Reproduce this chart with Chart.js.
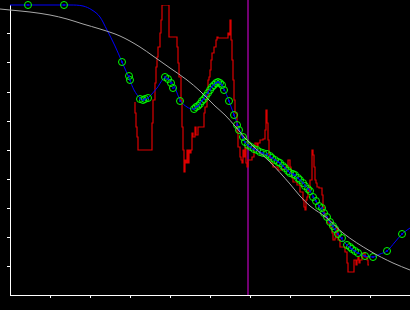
<!DOCTYPE html>
<html>
<head>
<meta charset="utf-8">
<script src="https://cdn.jsdelivr.net/npm/chart.js@4/dist/chart.umd.min.js"></script>
<style>
  html, body { margin: 0; padding: 0; background: #000; }
</style>
</head>
<body>
<canvas id="fitChart" width="410" height="310"></canvas>
<script>
// measured signal (stepped, red)
const redX = [125,126,127,128,129,142,142,143,145,146,147,148,150,151,152,153,159,160,167,168,169,171,172,173,174,175,176,177,178,179,180,181,182,183,185,186,188,194,195,197,198,199,200,201,202,204,206,207,208,218,219,220,221,222,223,224,225,227,228,230,231,232,233,234,235,236,237,238,242,244,245,247,248,250,253,255,256,257,258,259,260,261,263,268,272,275,278,280,281,282,283,287,290,293,294,295,296,297,298,300,302,303,304,305,306,307,309,312,313,314,315,317,320,322,323,325,326,327,328,330,335,337,338,339,344,344,346,347,348,349,350,352,353,355,357,358,359];
const redY = [193,182,168,158,145,145,155,172,195,212,228,238,248,262,275,290,290,258,258,248,232,218,195,168,145,123,135,132,145,132,145,142,145,162,158,168,160,168,182,188,198,215,218,225,235,242,248,255,258,257,262,260,275,255,235,215,195,182,163,148,138,135,132,145,138,148,132,128,135,138,148,152,148,152,155,156,165,185,172,155,140,137,132,128,125,126,128,135,128,122,117,113,110,103,95,88,85,95,98,105,115,145,140,128,115,112,108,107,100,88,82,78,72,68,62,55,57,62,67,55,48,43,32,23,23,28,35,30,35,38,32,35,38,42,38,35,30];

// smooth fit (blue)
const blueX = [0,30,60,73,82,90,97,105,112,119,124,130,135,140,147,155,160,165,170,177,183,190,198,204,209,214,219,224,229,234,240,250,260,270,280,290,300,310,320,330,340,348,355,363,370,377,385,392,400];
const blueY = [290,290,290,289,285,278,265,249,233,217,205,197,195,199,207,217,215,207,195,188,186,192,203,211,213,206,194,180,167,154,148,143,138,132,122,115,104,87,72,58,47,42,39,38,41,44,53,61,67];

// sample points (green circles)
const greenX = [18,54,112,119,120,130,133,135,138,155,158,161,163,170,184,186,188,190,192,194,196,198,200,202,204,206,208,210,212,214,219,224,227,229,233,235,238,241,244,247,250,253,257,260,262,265,268,270,273,275,278,280,283,285,288,290,293,295,298,300,303,306,309,312,314,317,320,323,325,328,332,337,340,342,345,348,355,363,377,392];
const greenY = [290,290,233,219,215,196,195,196,197,218,216,212,207,194,186,188,189,191,194,196,199,202,205,208,210,212,213,212,210,205,194,180,170,165,158,153,150,148,146,145,143,142,141,139,137,135,133,132,129,127,124,122,121,120,117,115,112,109,106,104,98,94,89,87,82,78,73,69,66,61,57,50,48,46,44,42,39,38,44,61];

// prior / reference trend (grey)
const grayX = [-10,0,20,40,57,73,90,110,130,143,160,177,190,205,215,225,235,245,260,280,290,300,317,333,360,383,400];
const grayY = [286,285,283,280,276,271,266,259,248,239,227,215,204,189,180,169,157,147,133,111,99,89,77,62,44,32,25];

// vertical marker
const splitX = 238;

const pts = (xs, ys) => xs.map((x, i) => ({ x: x, y: ys[i] }));

const bgPlugin = {
    id: 'bg',
    beforeDraw(chart) {
        const c = chart.ctx;
        c.save();
        c.fillStyle = '#000';
        c.fillRect(0, 0, chart.width, chart.height);
        c.restore();
    }
};

const splitPlugin = {
    id: 'split',
    beforeDatasetsDraw(chart) {
        const c = chart.ctx;
        const px = chart.scales.x.getPixelForValue(splitX);
        c.save();
        c.strokeStyle = '#990099';
        c.lineWidth = 1.5;
        c.beginPath();
        c.moveTo(px, 0);
        c.lineTo(px, chart.chartArea.bottom);
        c.stroke();
        c.restore();
    }
};

// hide tick marks at both ends of an axis
const tickColor = n => ctx => (ctx.index === 0 || ctx.index === n) ? 'transparent' : '#fff';

new Chart(document.getElementById('fitChart'), {
    type: 'line',
    data: {
        datasets: [
            {
                label: 'trend',
                data: pts(grayX, grayY),
                borderColor: '#a8a8a8',
                borderWidth: 1,
                pointRadius: 0,
                cubicInterpolationMode: 'monotone',
                clip: false,
                order: 0
            },
            {
                label: 'centres',
                data: pts(greenX, greenY),
                showLine: false,
                pointRadius: 1,
                pointBackgroundColor: '#0000ff',
                pointBorderWidth: 0,
                clip: false,
                order: 1
            },
            {
                label: 'samples',
                data: pts(greenX, greenY),
                showLine: false,
                pointRadius: 3.5,
                pointBorderColor: '#00ff00',
                pointBackgroundColor: 'transparent',
                pointBorderWidth: 1,
                clip: false,
                order: 2
            },
            {
                label: 'fit',
                data: pts(blueX, blueY),
                borderColor: '#0000ff',
                borderWidth: 1,
                pointRadius: 0,
                cubicInterpolationMode: 'monotone',
                clip: false,
                order: 3
            },
            {
                label: 'signal',
                data: pts(redX, redY),
                borderColor: '#dd0000',
                borderWidth: 1.2,
                pointRadius: 0,
                stepped: 'after',
                order: 4
            }
        ]
    },
    options: {
        responsive: false,
        animation: false,
        events: [],
        layout: { autoPadding: false, padding: { top: 5, left: 0, right: 0, bottom: 0 } },
        scales: {
            x: {
                type: 'linear',
                min: 0,
                max: 400,
                afterFit: s => { s.height = 15; },
                ticks: { display: false, stepSize: 40 },
                grid: { drawOnChartArea: false, drawTicks: true, tickLength: 3, color: tickColor(10) },
                border: { display: true, color: '#fff', width: 1 }
            },
            y: {
                type: 'linear',
                min: 0,
                max: 290,
                afterFit: s => { s.width = 10; },
                ticks: { display: false, stepSize: 29 },
                grid: { drawOnChartArea: false, drawTicks: true, tickLength: 3, color: tickColor(10) },
                border: { display: true, color: '#fff', width: 1 }
            }
        },
        plugins: {
            legend: { display: false },
            tooltip: { enabled: false }
        }
    },
    plugins: [bgPlugin, splitPlugin]
});
</script>
</body>
</html>
